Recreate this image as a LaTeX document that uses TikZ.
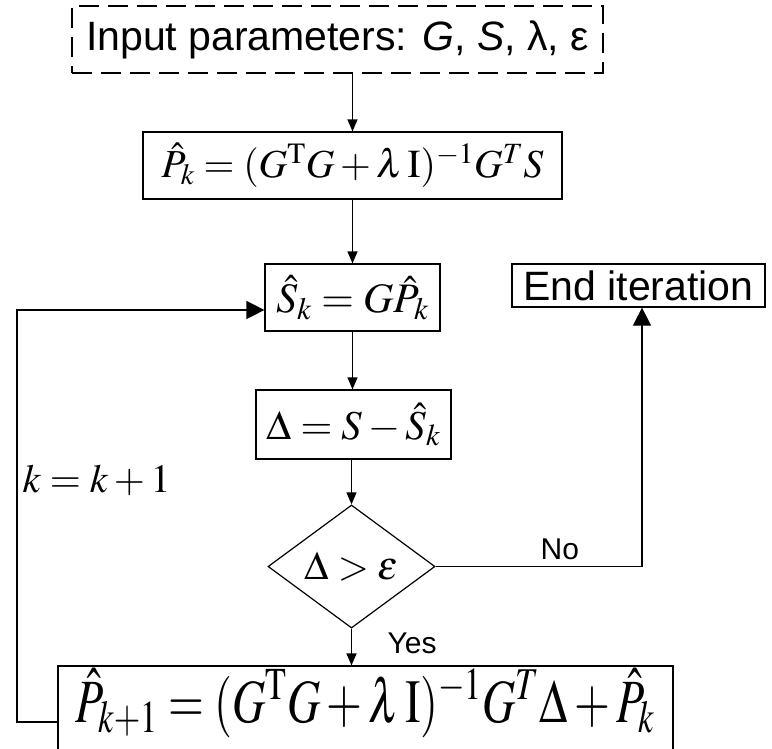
\documentclass[tikz,border=0pt]{standalone}
\usepackage{mathptmx}
\usepackage[no-math]{fontspec}
\newfontfamily\arial{Liberation Sans}
\usetikzlibrary{shapes.geometric,arrows.meta}
\begin{document}
\begin{tikzpicture}[x=1pt,y=-1pt, line width=1.2pt,
  box/.style={draw, rectangle, inner sep=0pt, anchor=center},
  arr/.style={-{Triangle[length=12pt,width=10pt]}},
  bigarr/.style={-{Triangle[length=18pt,width=18pt]}},
  sans/.style={font=\arial\fontsize{41}{48}\selectfont},
  endf/.style={font=\arial\fontsize{41}{46}\selectfont},
  lbl/.style={font=\arial\fontsize{30}{36}\selectfont, anchor=base west, inner sep=0pt},
  mth/.style={font=\fontsize{41}{48}\selectfont}]
\clip (0,0) rectangle (772,748);
\node[box, dash pattern=on 20pt off 9pt, minimum width=531pt, minimum height=67pt, sans] (in) at (337.5,39.5) {Input parameters: \textit{G}, \textit{S}, λ, ε};
\node[box, minimum width=419pt, minimum height=67pt, font=\fontsize{39.7}{46}\selectfont] (b2) at (352.5,165.5) {$\hat{P}_k = (G^{\mathrm{T}}G+\lambda\,\mathrm{I})^{-1}G^{T}S$};
\node[box, minimum width=175pt, minimum height=67pt, font=\fontsize{42}{48}\selectfont] (b3) at (352.5,297.5) {$\hat{S}_k = G\hat{P}_k$};
\node[box, minimum width=253pt, minimum height=43pt, endf] (end) at (638.5,285.5) {End iteration};
\node[box, minimum width=195pt, minimum height=69pt, mth] (b4) at (353.5,424.5) {$\Delta = S - \hat{S}_k$};
\node[draw, diamond, inner sep=0pt, minimum width=167pt, minimum height=83pt, font=\fontsize{40}{46}\selectfont] (dia) at (351.5,566.5) {$\Delta > \varepsilon$};
\node[box, minimum width=615pt, minimum height=112pt, text height=10pt, text depth=10pt, mth] (bot) at (365.5,722) {\scalebox{1.125}[1.5]{$\hat{P}_{k+1} = (G^{\mathrm{T}}G+\lambda\,\mathrm{I})^{-1}G^{T}\Delta+\hat{P}_k$}};
\node[lbl] (no) at (540,559) {No};
\node[lbl] (yes) at (387,653) {Yes};
\node[anchor=base west, inner sep=0pt, font=\fontsize{40}{46}\selectfont] (kk) at (22,492) {$k = k+1$};
\coordinate (loopB) at (17,722);
\coordinate (loopT) at (17,310);
\coordinate (noC) at (642,566.5);
\draw[arr] (in.south -| b2.north) -- (b2.north);
\draw[arr] (b2.south) -- (b2.south |- b3.north);
\draw[arr] (b3.south) -- (b3.south |- b4.north);
\draw[arr] (b4.south -| dia.north) -- (dia.north);
\draw[arr] (dia.south) -- (dia.south |- bot.north);
\draw[bigarr] (dia.east) -- (noC) -- (noC |- end.south);
\draw[bigarr] (bot.west) -- (loopB) -- (loopT) -- (loopT -| b3.west);
\end{tikzpicture}
\end{document}
